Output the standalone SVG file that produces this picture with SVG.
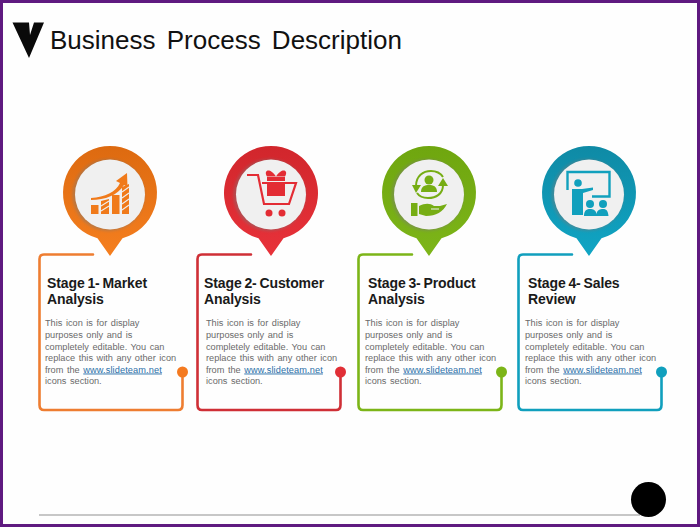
<svg xmlns="http://www.w3.org/2000/svg" width="700" height="527" viewBox="0 0 700 527">
<style>
text{font-family:"Liberation Sans",Arial,sans-serif}
.title{font-size:26px;fill:#111;word-spacing:4px}
.h{font-size:14px;font-weight:bold;fill:#1a1a1a;letter-spacing:-.1px;word-spacing:-1px}
.b{font-size:9.200px;fill:#6a6a6a;word-spacing:1px}
.l{fill:#2a6fa8;text-decoration:underline;letter-spacing:.12px}
.box{fill:none;stroke-width:2.600;stroke-linecap:round}
.in{fill:#f0f0f0}
.sh{fill:#7a7a7a;opacity:.45;filter:url(#bl)}
</style>
<defs>
<filter id="bl" x="-20%" y="-20%" width="140%" height="140%"><feGaussianBlur stdDeviation="1.500"/></filter>
<linearGradient id="go" x1="0" y1="0" x2="0" y2="1"><stop offset="0" stop-color="#dd6a10"/><stop offset="1" stop-color="#f57f1f"/></linearGradient>
<linearGradient id="gr" x1="0" y1="0" x2="0" y2="1"><stop offset="0" stop-color="#d1262c"/><stop offset="1" stop-color="#e8323a"/></linearGradient>
<linearGradient id="gg" x1="0" y1="0" x2="0" y2="1"><stop offset="0" stop-color="#6fa60f"/><stop offset="1" stop-color="#7db519"/></linearGradient>
<linearGradient id="gb" x1="0" y1="0" x2="0" y2="1"><stop offset="0" stop-color="#0f8aa5"/><stop offset="1" stop-color="#10a5c4"/></linearGradient>
<path id="pin" d="M-12.500,45.300A47,47 0 1 1 12.500,45.300L0,63Z"/>
</defs>
<rect x="1.500" y="1.500" width="697" height="524" fill="#fefefe" stroke="#5f1a80" stroke-width="3"/>
<g id="header">
<path d="M12.500,22.500H29L30,35L34,22.500H44L29,58Z" fill="#0a0a0a"/>
<text class="title" x="50" y="49">Business Process Description</text>
</g>
<g id="footer">
<line x1="39" y1="515" x2="640" y2="515" stroke="#8f8f8f" stroke-width="1.200"/>
<circle cx="648.500" cy="499.500" r="17.500" fill="#000"/>
</g>
<g id="connectors">
<path class="box" stroke="#ee7d31" d="M93,254.500H44Q39.500,254.500 39.500,259V405Q39.500,410 44,410H178Q182.500,410 182.500,405V372"/>
<path class="box" stroke="#cf2f36" d="M251,254.500H202Q197.500,254.500 197.500,259V405Q197.500,410 202,410H336Q340.500,410 340.500,405V372"/>
<path class="box" stroke="#7cb518" d="M412,254.500H363Q358.500,254.500 358.500,259V405Q358.500,410 363,410H497Q501.500,410 501.500,405V372"/>
<path class="box" stroke="#109fbd" d="M572,254.500H523Q518.500,254.500 518.500,259V405Q518.500,410 523,410H657Q661.500,410 661.500,405V372"/>
</g>
<g id="stage1">
<use href="#pin" x="110" y="193" fill="url(#go)"/>
<circle class="sh" cx="108.500" cy="195" r="36"/>
<circle class="in" cx="110" cy="194.500" r="35"/>
<g fill="#f07a1a">
<rect x="91" y="205" width="7.500" height="9"/>
<path d="M101,201L109,199V214H101Z"/>
<rect x="112" y="195" width="7.500" height="19"/>
<path d="M122,187L129,184V214H122Z"/>
<path d="M91,198C105,197 116,192 120,183L116,181L127,173L127.500,187L124,185C118,195 105,200 91,200Z"/>
</g>
<g stroke="#f0f0f0" stroke-width="1.100">
<path d="M101,206L109,201M101,211L109,206M122,192L129,187M122,198L129,193M122,204L129,199M122,210L129,205"/>
</g>
<circle cx="182.500" cy="372" r="5.500" fill="#f47a20"/>
<text class="h" x="47" y="288">Stage 1- Market</text>
<text class="h" x="47" y="304">Analysis</text>
<text class="b" x="45" y="326">This icon is for display</text>
<text class="b" x="45" y="338">purposes only and is</text>
<text class="b" x="45" y="349.500">completely editable. You can</text>
<text class="b" x="45" y="361">replace this with any other icon</text>
<text class="b" x="45" y="372.500">from the <tspan class="l">www.slideteam.net</tspan></text>
<text class="b" x="45" y="384">icons section.</text>
</g>
<g id="stage2">
<use href="#pin" x="271" y="193" fill="url(#gr)"/>
<circle class="sh" cx="269.500" cy="195" r="36"/>
<circle class="in" cx="271" cy="194.500" r="35"/>
<g fill="none" stroke="#e32c34" stroke-width="2.200">
<path d="M247,175H258L264,204H289L296,183H262"/>
</g>
<g fill="#e32c34">
<rect x="267" y="182" width="18" height="14"/>
<rect x="267" y="177" width="18" height="4"/>
<path d="M276,176.500C270,167 263,170 267,176.500ZM276,176.500C282,167 289,170 285,176.500Z"/>
<circle cx="269" cy="213" r="3.500"/>
<circle cx="282" cy="213" r="3.500"/>
</g>
<circle cx="340.500" cy="372" r="5.500" fill="#e12f36"/>
<text class="h" x="204" y="288">Stage 2- Customer</text>
<text class="h" x="204" y="304">Analysis</text>
<text class="b" x="206" y="326">This icon is for display</text>
<text class="b" x="206" y="338">purposes only and is</text>
<text class="b" x="206" y="349.500">completely editable. You can</text>
<text class="b" x="206" y="361">replace this with any other icon</text>
<text class="b" x="206" y="372.500">from the <tspan class="l">www.slideteam.net</tspan></text>
<text class="b" x="206" y="384">icons section.</text>
</g>
<g id="stage3">
<use href="#pin" x="429" y="193" fill="url(#gg)"/>
<circle class="sh" cx="427.500" cy="195" r="36"/>
<circle class="in" cx="429" cy="194.500" r="35"/>
<g fill="#76ad14">
<circle cx="429" cy="180" r="4.500"/>
<path d="M421,192C421,186 425,185 429,185S437,186 437,192Z"/>
<rect x="411" y="203" width="6.500" height="13"/>
<path d="M419,206C425,203 430,203 434,206H440L447,204C443,212 436,216 426,216L419,214Z"/>
</g>
<path d="M431,209H439" stroke="#f0f0f0" stroke-width="1"/>
<g fill="none" stroke="#76ad14" stroke-width="2">
<path d="M416,186C416,176 423,171 431,171C437,171 441,174 443,177"/>
<path d="M443,185C443,194 436,198 428,198C423,198 419,196 417,193"/>
</g>
<path d="M412,185H421L416,193ZM438,186H448L443,178Z" fill="#76ad14"/>
<circle cx="501.500" cy="372" r="5.500" fill="#7cb518"/>
<text class="h" x="368" y="288">Stage 3- Product</text>
<text class="h" x="368" y="304">Analysis</text>
<text class="b" x="365" y="326">This icon is for display</text>
<text class="b" x="365" y="338">purposes only and is</text>
<text class="b" x="365" y="349.500">completely editable. You can</text>
<text class="b" x="365" y="361">replace this with any other icon</text>
<text class="b" x="365" y="372.500">from the <tspan class="l">www.slideteam.net</tspan></text>
<text class="b" x="365" y="384">icons section.</text>
</g>
<g id="stage4">
<use href="#pin" x="589" y="193" fill="url(#gb)"/>
<circle class="sh" cx="587.500" cy="195" r="36"/>
<circle class="in" cx="589" cy="194.500" r="35"/>
<path d="M567.500,190V172H609.500V196.500H592" fill="none" stroke="#11a0bd" stroke-width="2.400"/>
<g fill="#11a0bd">
<circle cx="578" cy="183" r="3.800"/>
<path d="M572,189H582L593,187.500L593,190L583,193V215H572Z"/>
<circle cx="590" cy="204" r="4"/>
<circle cx="603" cy="204" r="4"/>
<path d="M584,216C584,210 587,209 590,209S596,210 596.500,214C597,210 600,209 603,209S608,210 608.500,216Z"/>
</g>
<circle cx="661.500" cy="372" r="5.500" fill="#109fbd"/>
<text class="h" x="528" y="288">Stage 4- Sales</text>
<text class="h" x="528" y="304">Review</text>
<text class="b" x="525" y="326">This icon is for display</text>
<text class="b" x="525" y="338">purposes only and is</text>
<text class="b" x="525" y="349.500">completely editable. You can</text>
<text class="b" x="525" y="361">replace this with any other icon</text>
<text class="b" x="525" y="372.500">from the <tspan class="l">www.slideteam.net</tspan></text>
<text class="b" x="525" y="384">icons section.</text>
</g>
</svg>
